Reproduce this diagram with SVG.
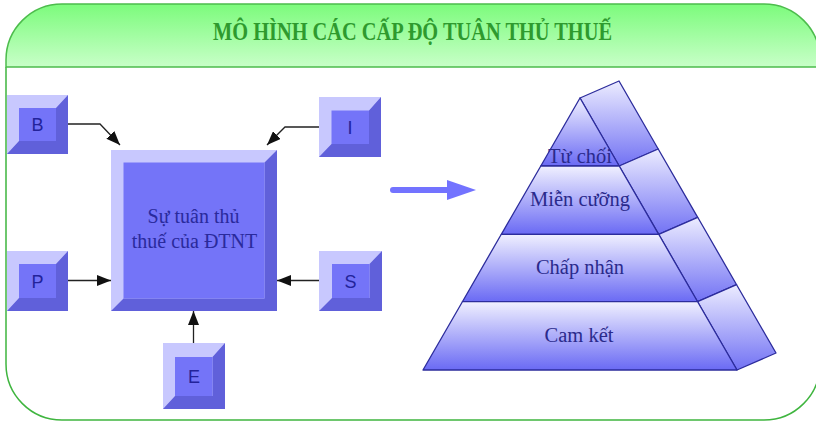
<svg xmlns="http://www.w3.org/2000/svg" width="816" height="421" viewBox="0 0 816 421">
  <defs>
    <linearGradient id="bannerFill" x1="0" y1="0" x2="0" y2="1">
      <stop offset="0" stop-color="#7cfb7c"/>
      <stop offset="1" stop-color="#c8ffc8"/>
    </linearGradient>
    <linearGradient id="tierFill" x1="0" y1="0" x2="0" y2="1">
      <stop offset="0" stop-color="#f0f0ff"/>
      <stop offset="1" stop-color="#6a6af4"/>
    </linearGradient>
    <linearGradient id="sideFill" x1="0" y1="0" x2="0" y2="1">
      <stop offset="0" stop-color="#ececff"/>
      <stop offset="1" stop-color="#7272f4"/>
    </linearGradient>
    <marker id="arrow" markerUnits="userSpaceOnUse" markerWidth="14" markerHeight="11" refX="14" refY="5.5" orient="auto">
      <path d="M0,0 L14,5.5 L0,11 Z" fill="#111"/>
    </marker>
  </defs>
  <style>
    .frame { fill: none; stroke: #3fb53f; stroke-width: 1.5; }
    .banner { fill: url(#bannerFill); stroke: #4cbc4c; stroke-width: 1.5; }
    .title { font-family: "Liberation Serif", "Times New Roman", serif; font-weight: bold; font-size: 25px; fill: #2e9a2e; }
    .light { fill: #c8c8fe; }
    .dark { fill: #6060da; }
    .face { fill: #7474f8; }
    .key { font-family: "Liberation Sans", Arial, sans-serif; font-size: 18px; fill: #23239a; text-anchor: middle; }
    .main { font-family: "Liberation Serif", "Times New Roman", serif; font-size: 20px; fill: #2a2a9c; text-anchor: middle; }
    .link { fill: none; stroke: #222; stroke-width: 1.3; marker-end: url(#arrow); }
    .tier { fill: url(#tierFill); stroke: #2c2c9c; stroke-width: 1.3; stroke-linejoin: round; }
    .side { fill: url(#sideFill); stroke: #2c2c9c; stroke-width: 1.3; stroke-linejoin: round; }
    .level { font-family: "Liberation Serif", "Times New Roman", serif; font-size: 20.5px; fill: #2a2a8c; text-anchor: middle; }
  </style>

  <rect width="816" height="421" fill="#ffffff"/>

  <!-- outer frame and title banner -->
  <path class="frame" d="M6,67 V364 A56,56 0 0 0 62,420 H764 A56,56 0 0 0 820,364 V67"/>
  <path class="banner" d="M6,67 V60 A56,56 0 0 1 62,4 H764 A56,56 0 0 1 820,60 V67 Z"/>
  <text class="title" x="412.5" y="40" text-anchor="middle" textLength="399" lengthAdjust="spacingAndGlyphs">MÔ HÌNH CÁC CẤP ĐỘ TUÂN THỦ THUẾ</text>

  <!-- connectors -->
  <g id="connectors">
    <path class="link" d="M68,124 H100 L120,145"/>
    <path class="link" d="M319,127 H285 L267,145"/>
    <path class="link" d="M68,280.5 H111"/>
    <path class="link" d="M319,280.5 H277"/>
    <path class="link" d="M193.5,343 V311"/>
  </g>

  <!-- central box -->
  <g id="compliance">
    <rect class="light" x="111" y="150" width="166" height="161"/>
    <polygon class="dark" points="111,311 277,311 277,150 264.5,162.5 264.5,298.5 123.5,298.5"/>
    <rect class="face" x="123.5" y="162.5" width="141" height="136"/>
    <text class="main" x="193.5" y="223">Sự tuân thủ</text>
    <text class="main" x="194.5" y="248">thuế của ĐTNT</text>
  </g>

  <g id="node-b">
    <rect class="light" x="7" y="95" width="61" height="59"/>
    <polygon class="dark" points="7,154 68,154 68,95 56,108 56,141 19,141"/>
    <rect class="face" x="19" y="108" width="37" height="33"/>
    <text class="key" x="37.5" y="131">B</text>
  </g>

  <g id="node-i">
    <rect class="light" x="319" y="97" width="62" height="60"/>
    <polygon class="dark" points="319,157 381,157 381,97 369,110.5 369,144 331.5,144"/>
    <rect class="face" x="331.5" y="110.5" width="37.5" height="33.5"/>
    <text class="key" x="350" y="134">I</text>
  </g>

  <g id="node-p">
    <rect class="light" x="7" y="251" width="61" height="60"/>
    <polygon class="dark" points="7,311 68,311 68,251 56,264 56,298 19,298"/>
    <rect class="face" x="19" y="264" width="37" height="34"/>
    <text class="key" x="37.5" y="287.5">P</text>
  </g>

  <g id="node-s">
    <rect class="light" x="319" y="251" width="63" height="60"/>
    <polygon class="dark" points="319,311 382,311 382,251 369.5,264 369.5,298 332,298"/>
    <rect class="face" x="332" y="264" width="37.5" height="34"/>
    <text class="key" x="350.5" y="287.5">S</text>
  </g>

  <g id="node-e">
    <rect class="light" x="163" y="343" width="62" height="66"/>
    <polygon class="dark" points="163,409 225,409 225,343 212.5,357 212.5,396 175,396"/>
    <rect class="face" x="175" y="357" width="37.5" height="39"/>
    <text class="key" x="194" y="383">E</text>
  </g>

  <!-- transition arrow -->
  <g id="transition">
    <line x1="393" y1="190" x2="450" y2="190" stroke="#7373ff" stroke-width="6" stroke-linecap="round"/>
    <polygon points="447,180 476,190 447,200" fill="#7373ff"/>
  </g>

  <!-- compliance pyramid -->
  <g id="pyramid">
    <polygon class="side" points="580,98 619,81 658.2,149 619.2,166"/>
    <polygon class="side" points="619.2,166 658.2,149 697.7,217.3 658.7,234.3"/>
    <polygon class="side" points="658.7,234.3 697.7,217.3 736.6,284.7 697.6,301.7"/>
    <polygon class="side" points="697.6,301.7 736.6,284.7 776,353 737,370"/>
    <g id="level-refuse">
      <polygon class="tier" points="580,98 619.2,166 540.8,166"/>
      <text class="level" x="580" y="163">Từ chối</text>
    </g>
    <g id="level-reluctant">
      <polygon class="tier" points="540.8,166 619.2,166 658.7,234.3 501.3,234.3"/>
      <text class="level" x="580" y="206">Miễn cưỡng</text>
    </g>
    <g id="level-accept">
      <polygon class="tier" points="501.3,234.3 658.7,234.3 697.6,301.7 462.4,301.7"/>
      <text class="level" x="580" y="274">Chấp nhận</text>
    </g>
    <g id="level-commit">
      <polygon class="tier" points="462.4,301.7 697.6,301.7 737,370 423,370"/>
      <text class="level" x="579" y="341.5">Cam kết</text>
    </g>
  </g>
</svg>
